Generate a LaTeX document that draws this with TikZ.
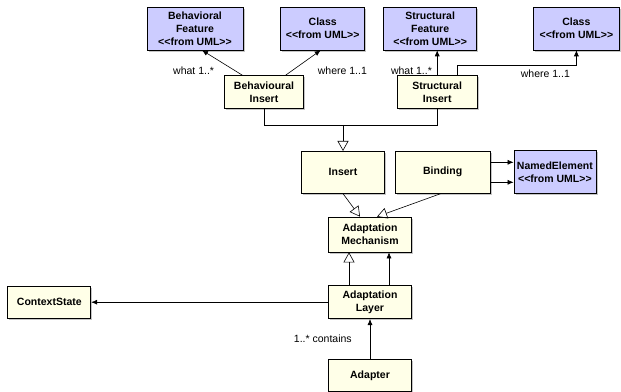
\documentclass[tikz,border=0pt]{standalone}
\usepackage{fontspec}
\newfontfamily\umlfont{Liberation Sans}
\usetikzlibrary{arrows.meta,shapes,positioning,shadows}
\definecolor{umlcream}{RGB}{255,255,232}
\definecolor{umlblue}{RGB}{204,204,255}

\begin{document}
\begin{tikzpicture}[
  x=1pt, y=-1pt, node distance=25pt, auto,
  % STYLES
  every node/.style={inner sep=2pt},
  % OWNs
  cnode/.style={rectangle,draw,line width=0.7pt,fill=umlcream,align=center,
    font=\umlfont\bfseries\fontsize{10.5}{13}\selectfont,
    drop shadow={shadow xshift=1.6pt,shadow yshift=-1.6pt,fill=black!45,opacity=.5},
    minimum width=83pt,minimum height=33pt},
  unode/.style={cnode,fill=umlblue,minimum height=43pt},
  lbl/.style={draw=none,fill=none,font=\umlfont\fontsize{10.5}{12}\selectfont},
  assoc/.style={-{Latex[length=6pt,width=5pt]},line width=0.6pt},
  gen/.style={-{Triangle[open,length=10pt,width=11pt]},line width=0.6pt}]

  \useasboundingbox (0,0) rectangle (621,391);

  \node[cnode, minimum height=35pt] (am) at (370,234.5) {Adaptation\\Mechanism};
    \node[cnode] [below=33pt of am](al) {Adaptation\\Layer};
    \node[cnode, minimum height=32pt] [below=40pt of al](adp) {Adapter};
    \node[cnode, minimum height=32pt] [left=237pt of al](cs) {ContextState};

  \node[cnode, minimum height=42pt] [above=23pt of am, xshift=-27pt](ins) {Insert};
  \node[cnode, minimum width=95pt, minimum height=42pt] [right=10pt of ins](bind) {Binding};
  \node[unode, minimum width=82pt] [right=23pt of bind](ne) {NamedElement\\<<from UML>>};

  \node[cnode, minimum width=79pt] [above=42pt of ins, xshift=-79pt](bi) {Behavioural\\Insert};
  \node[cnode, minimum width=80pt] [right=93pt of bi](si) {Structural\\Insert};

  \node[unode, minimum width=96pt] [above=25pt of bi, xshift=-69pt](bf) {Behavioral\\Feature\\<<from UML>>};
  \node[unode, minimum width=84pt] [right=37pt of bf](cls1) {Class\\<<from UML>>};
  \node[unode, minimum width=93pt] [above=25pt of si, xshift=-7pt](sf) {Structural\\Feature\\<<from UML>>};
  \node[unode, minimum width=86pt] [right=56pt of sf](cls2) {Class\\<<from UML>>};

  \coordinate (jn) at ([yshift=26pt]ins.north);

  \path[assoc]
    (bi.142) edge node[lbl, pos=0.2, left=18pt] {what 1..*} ([xshift=7pt]bf.south)
    (bi.38) edge node[lbl, pos=0.2, right=23pt] {where 1..1} ([xshift=-2pt]cls1.south)
    (si.north) edge node[lbl, pos=0.2, left=3pt] {what 1..*} (si.north |- sf.south)
    ([yshift=10pt]bind.east) edge ([yshift=10pt]bind.east -| ne.west)
    ([yshift=-10pt]bind.east) edge ([yshift=-10pt]bind.east -| ne.west)
    ([xshift=19pt]al.north) edge ([xshift=19pt]am.south)
    (al.west) edge (cs.east)
    (adp.north) edge node[lbl, pos=0.5, left=16pt] {1..* contains} (al.south);

  \draw[assoc] ([xshift=20pt]si.north) -- ++(0,10pt)
    -| node[lbl, pos=0.37, below=2pt] {where 1..1} (cls2.south);

  \draw[line width=0.6pt] (bi.south) |- (jn) -| (si.south);

  \path[gen]
    (jn) edge (ins.north)
    (ins.south) edge ([xshift=-10pt]am.north)
    ([xshift=-2pt]bind.south) edge ([xshift=7pt]am.north)
    ([xshift=-21pt]al.north) edge ([xshift=-21pt]am.south);
\end{tikzpicture}
\end{document}
